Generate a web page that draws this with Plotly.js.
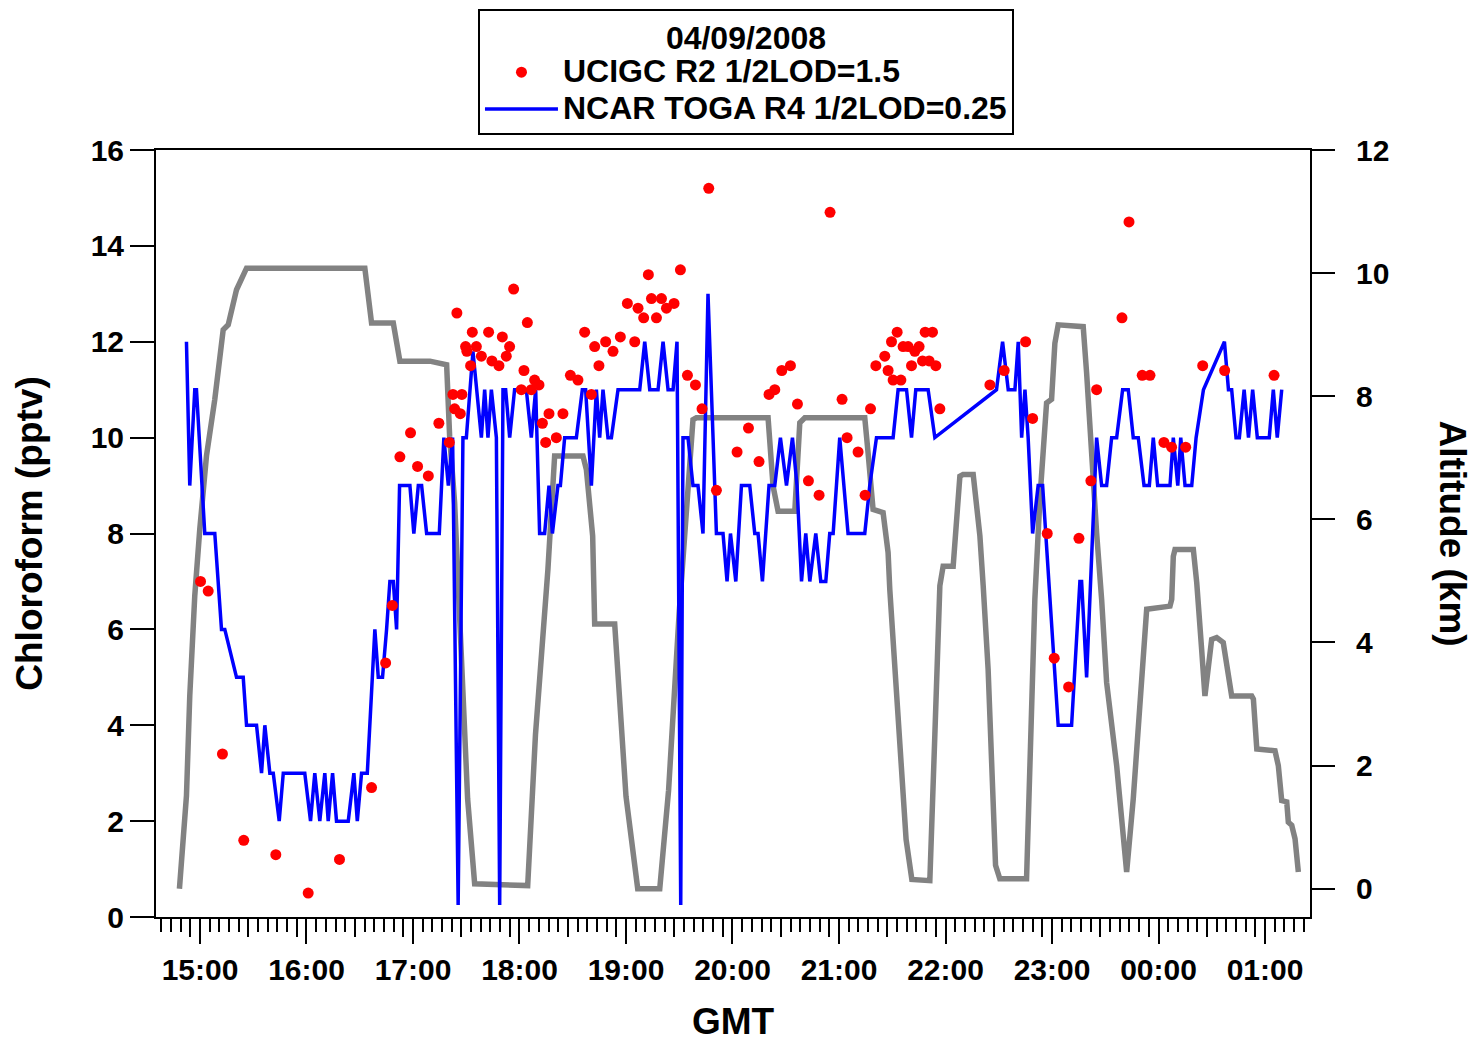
<!DOCTYPE html>
<html>
<head>
<meta charset="utf-8">
<script src="https://cdn.plot.ly/plotly-3.0.1.min.js"></script>
<style>html,body{margin:0;padding:0;background:#fff;}#chart{width:1476px;height:1042px;}</style>
</head>
<body>
<div id="chart"></div>
<script>
// ---- Axis tick labels (GMT hours; values above 24 are after midnight) ----
const hourTicks = [15, 16, 17, 18, 19, 20, 21, 22, 23, 24, 25];
const hourLabels = ['15:00', '16:00', '17:00', '18:00', '19:00', '20:00', '21:00', '22:00', '23:00', '00:00', '01:00'];
const chloroTicks = [0, 2, 4, 6, 8, 10, 12, 14, 16];
const altTicks = [0, 2, 4, 6, 8, 10, 12];

// ---- Aircraft altitude (km), gray trace ----
const altTime = [14.807, 14.873, 14.904, 14.951, 14.998, 15.061, 15.139, 15.218, 15.265, 15.343,
  15.437, 16.548, 16.611, 16.815, 16.877, 17.159, 17.316, 17.344, 17.391, 17.466,
  17.513, 17.579, 18.077, 18.150, 18.267, 18.330, 18.596, 18.628, 18.687, 18.706,
  18.894, 19.000, 19.110, 19.317, 19.400, 19.500, 19.629, 19.661, 20.334, 20.381,
  20.428, 20.585, 20.632, 20.679, 21.242, 21.273, 21.320, 21.414, 21.461, 21.477,
  21.570, 21.630, 21.684, 21.853, 21.900, 21.947, 21.978, 22.072, 22.135, 22.166,
  22.260, 22.323, 22.354, 22.400, 22.470, 22.510, 22.761, 22.792, 22.839, 22.886,
  22.949, 22.996, 23.027, 23.058, 23.293, 23.325, 23.356, 23.419, 23.466, 23.513,
  23.607, 23.669, 23.701, 23.763, 23.826, 23.873, 23.889, 24.108, 24.124, 24.139,
  24.155, 24.327, 24.359, 24.405, 24.436, 24.499, 24.546, 24.608, 24.687, 24.875,
  24.891, 24.923, 25.094, 25.125, 25.157, 25.204, 25.219, 25.251, 25.282, 25.313];
const altKm = [0.00, 1.51, 3.13, 4.76, 5.84, 7.03, 7.95, 9.08, 9.16, 9.73,
  10.08, 10.08, 9.19, 9.19, 8.57, 8.57, 8.51, 7.35, 6.27, 3.08,
  1.46, 0.08, 0.05, 2.50, 5.19, 7.03, 7.03, 6.81, 5.73, 4.30,
  4.30, 1.50, 0.00, 0.00, 1.60, 4.50, 7.62, 7.65, 7.65, 6.54,
  6.13, 6.13, 7.57, 7.65, 7.65, 7.08, 6.16, 6.11, 5.46, 4.86,
  2.50, 0.80, 0.15, 0.13, 2.50, 4.92, 5.24, 5.24, 6.70, 6.73,
  6.73, 5.73, 4.92, 3.57, 0.38, 0.16, 0.16, 2.00, 4.70, 6.32,
  7.89, 7.95, 8.86, 9.16, 9.13, 8.38, 7.41, 5.78, 4.70, 3.35,
  2.00, 0.92, 0.27, 1.46, 3.08, 4.16, 4.54, 4.59, 4.70, 5.40,
  5.51, 5.51, 4.97, 3.89, 3.13, 4.05, 4.08, 4.00, 3.13, 3.13,
  3.08, 2.27, 2.24, 2.00, 1.43, 1.41, 1.08, 1.03, 0.81, 0.27];

// ---- NCAR TOGA chloroform (pptv), blue line ----
const togaTime = [14.873, 14.904, 14.951, 14.967, 15.045, 15.139, 15.202, 15.233, 15.343, 15.406,
  15.437, 15.531, 15.578, 15.609, 15.656, 15.688, 15.744, 15.782, 15.984, 16.038,
  16.078, 16.125, 16.172, 16.204, 16.245, 16.282, 16.392, 16.445, 16.477, 16.517,
  16.571, 16.642, 16.674, 16.714, 16.752, 16.783, 16.815, 16.846, 16.874, 16.971,
  17.008, 17.050, 17.081, 17.128, 17.247, 17.290, 17.332, 17.372, 17.424, 17.469,
  17.501, 17.563, 17.642, 17.673, 17.704, 17.736, 17.783, 17.814, 17.845, 17.870,
  17.908, 17.954, 18.064, 18.111, 18.152, 18.189, 18.236, 18.277, 18.309, 18.361,
  18.384, 18.424, 18.534, 18.590, 18.621, 18.675, 18.722, 18.753, 18.784, 18.831,
  18.863, 18.925, 19.129, 19.176, 19.223, 19.301, 19.348, 19.395, 19.442, 19.479,
  19.514, 19.535, 19.582, 19.629, 19.676, 19.723, 19.770, 19.849, 19.911, 19.949,
  19.981, 20.031, 20.084, 20.162, 20.209, 20.240, 20.281, 20.343, 20.397, 20.450,
  20.507, 20.563, 20.606, 20.648, 20.688, 20.726, 20.782, 20.829, 20.876, 20.913,
  20.945, 21.007, 21.085, 21.242, 21.289, 21.352, 21.508, 21.555, 21.634, 21.681,
  21.721, 21.837, 21.900, 22.479, 22.536, 22.589, 22.652, 22.683, 22.715, 22.746,
  22.776, 22.818, 22.870, 22.912, 23.058, 23.184, 23.262, 23.278, 23.325, 23.419,
  23.466, 23.513, 23.560, 23.607, 23.663, 23.716, 23.763, 23.810, 23.864, 23.914,
  23.951, 23.992, 24.108, 24.139, 24.181, 24.209, 24.249, 24.312, 24.353, 24.422,
  24.619, 24.657, 24.687, 24.728, 24.759, 24.804, 24.845, 24.884, 24.928, 25.040,
  25.078, 25.115, 25.157];
const togaVal = [12, 9, 11, 11, 8, 8, 6, 6, 5, 5,
  4, 4, 3, 4, 3, 3, 2, 3, 3, 2,
  3, 2, 3, 2, 3, 2, 2, 3, 2, 3,
  3, 6, 5, 5, 6, 7, 7, 6, 9, 9,
  8, 9, 9, 8, 8, 10, 9, 10, 0.25, 10,
  10, 11.8, 10, 11, 10, 11, 10, 0.25, 11, 11,
  10, 11, 11, 10, 11, 8, 8, 9, 8, 9,
  9, 10, 10, 11, 11, 9, 11, 10, 11, 10,
  10, 11, 11, 12, 11, 11, 12, 11, 11, 12,
  0.25, 10, 10, 9, 9, 8, 13, 8, 8, 7,
  8, 7, 9, 9, 8, 8, 7, 9, 9, 10,
  9, 10, 9, 7, 8, 7, 8, 7, 7, 8,
  8, 10, 8, 8, 9, 10, 10, 11, 11, 10,
  11, 11, 10, 11, 12, 11, 11, 12, 10, 11,
  10, 8, 9, 9, 4, 4, 7, 7, 5, 10,
  9, 9, 10, 10, 11, 11, 10, 10, 9, 9,
  10, 9, 9, 10, 9, 10, 9, 9, 10, 11,
  12, 11, 11, 10, 10, 11, 10, 11, 10, 10,
  11, 10, 11];

// ---- UCIGC chloroform (pptv), red dots ----
const ucigcTime = [15.005, 15.077, 15.211, 15.411, 15.712, 16.016, 16.310, 16.611, 16.743, 16.806,
  16.877, 16.977, 17.043, 17.144, 17.243, 17.341, 17.375, 17.391, 17.412, 17.444,
  17.459, 17.494, 17.506, 17.541, 17.557, 17.595, 17.642, 17.710, 17.741, 17.807,
  17.839, 17.876, 17.907, 17.945, 18.017, 18.042, 18.074, 18.111, 18.142, 18.183,
  18.215, 18.246, 18.277, 18.346, 18.408, 18.478, 18.549, 18.612, 18.675, 18.706,
  18.746, 18.809, 18.878, 18.947, 19.013, 19.082, 19.113, 19.166, 19.210, 19.239,
  19.286, 19.333, 19.380, 19.451, 19.511, 19.577, 19.652, 19.714, 19.777, 19.849,
  20.043, 20.150, 20.249, 20.343, 20.397, 20.463, 20.544, 20.610, 20.713, 20.813,
  20.916, 21.029, 21.076, 21.179, 21.245, 21.296, 21.346, 21.430, 21.461, 21.493,
  21.508, 21.546, 21.581, 21.602, 21.649, 21.681, 21.712, 21.752, 21.784, 21.809,
  21.846, 21.878, 21.909, 21.947, 22.417, 22.551, 22.752, 22.818, 22.955, 23.021,
  23.156, 23.253, 23.365, 23.419, 23.657, 23.723, 23.847, 23.920, 24.051, 24.123,
  24.255, 24.415, 24.621, 25.085];
const ucigcVal = [7.0, 6.8, 3.4, 1.6, 1.3, 0.5, 1.2, 2.7, 5.3, 6.5,
  9.6, 10.1, 9.4, 9.2, 10.3, 9.9, 10.9, 10.6, 12.6, 10.5,
  10.9, 11.9, 11.8, 11.5, 12.2, 11.9, 11.7, 12.2, 11.6, 11.5,
  12.1, 11.7, 11.9, 13.1, 11.0, 11.4, 12.4, 11.0, 11.2, 11.1,
  10.3, 9.9, 10.5, 10.0, 10.5, 11.3, 11.2, 12.2, 10.9, 11.9,
  11.5, 12.0, 11.8, 12.1, 12.8, 12.0, 12.7, 12.5, 13.4, 12.9,
  12.5, 12.9, 12.7, 12.8, 13.5, 11.3, 11.1, 10.6, 15.2, 8.9,
  9.7, 10.2, 9.5, 10.9, 11.0, 11.4, 11.5, 10.7, 9.1, 8.8,
  14.7, 10.8, 10.0, 9.7, 8.8, 10.6, 11.5, 11.7, 11.4, 12.0,
  11.2, 12.2, 11.2, 11.9, 11.9, 11.5, 11.8, 11.9, 11.6, 12.2,
  11.6, 12.2, 11.5, 10.6, 11.1, 11.4, 12.0, 10.4, 8.0, 5.4,
  4.8, 7.9, 9.1, 11.0, 12.5, 14.5, 11.3, 11.3, 9.9, 9.8,
  9.8, 11.5, 11.4, 11.3];

// ---- legend texts ----
const legendTitle = '04/09/2008';
const ucigcName = 'UCIGC R2 1/2LOD=1.5';
const togaName = 'NCAR TOGA R4 1/2LOD=0.25';

// ---- axis decoration: minor ticks (11 per hour) and medium ticks ----
const xRange = [14.587, 25.4225];
const minorTicks = [];
const mediumTicks = [];
for (let h = 14; h <= 25; h++) {
  for (let k = 1; k < 11; k++) {
    const v = h + k / 11;
    if (v > xRange[0] && v < xRange[1]) {
      minorTicks.push(v);
      if (k === 5 || k === 10) mediumTicks.push(v);
    }
  }
}

const FONT = 'Liberation Sans, Arial, Helvetica, sans-serif';
const big = (t) => '<span style="font-size:32px">' + t + '</span>';

const traces = [
  {
    name: 'Altitude', x: altTime, y: altKm, xaxis: 'x', yaxis: 'y',
    type: 'scatter', mode: 'lines', line: {color: '#828282', width: 5.5},
    showlegend: false, hoverinfo: 'skip'
  },
  {
    name: big(togaName), x: togaTime, y: togaVal, xaxis: 'x', yaxis: 'y2',
    type: 'scatter', mode: 'lines', line: {color: '#0000ff', width: 3.5},
    legendrank: 2
  },
  {
    name: big(ucigcName), x: ucigcTime, y: ucigcVal, xaxis: 'x', yaxis: 'y2',
    type: 'scatter', mode: 'markers', marker: {color: '#ff0000', size: 11, symbol: 'circle'},
    legendrank: 1
  },
  {
    x: [], y: [], xaxis: 'x2', yaxis: 'y', type: 'scatter', mode: 'markers',
    showlegend: false, hoverinfo: 'skip'
  }
];

const layout = {
  width: 1476, height: 1042,
  margin: {l: 156, r: 166, t: 150, b: 125, pad: 0, autoexpand: false},
  paper_bgcolor: '#ffffff', plot_bgcolor: '#ffffff',
  font: {family: FONT, size: 30, color: '#000000', weight: 'bold'},
  showlegend: true,
  legend: {
    x: 0.279, xanchor: 'left', y: 1.1838, yanchor: 'top',
    bordercolor: '#000000', borderwidth: 2, bgcolor: '#ffffff',
    font: {family: FONT, size: 26, color: '#000000', weight: 'bold'},
    title: {text: big(legendTitle), side: 'top center', font: {family: FONT, size: 29, color: '#000000', weight: 'bold'}},
    itemwidth: 73, traceorder: 'normal'
  },
  xaxis: {
    range: xRange, tickmode: 'array', tickvals: hourTicks, ticktext: hourLabels,
    ticks: 'outside', ticklen: 25, tickwidth: 2, tickcolor: '#000000',
    showline: true, linewidth: 2, linecolor: '#000000', mirror: true,
    showgrid: false, zeroline: false, anchor: 'y',
    tickfont: {family: FONT, size: 30, color: '#000000', weight: 'bold'},
    title: {text: 'GMT', font: {family: FONT, size: 37, color: '#000000', weight: 'bold'}, standoff: 24},
    minor: {tickmode: 'array', tickvals: minorTicks, ticks: 'outside', ticklen: 13, tickwidth: 2, tickcolor: '#000000', showgrid: false}
  },
  xaxis2: {
    range: xRange, overlaying: 'x', anchor: 'y', side: 'bottom',
    tickmode: 'array', tickvals: mediumTicks, ticks: 'outside', ticklen: 19, tickwidth: 2, tickcolor: '#000000',
    showticklabels: false, showline: false, showgrid: false, zeroline: false
  },
  yaxis: {
    range: [-0.46, 12], side: 'right', anchor: 'x',
    tickmode: 'array', tickvals: altTicks,
    ticks: 'outside', ticklen: 23, tickwidth: 2, tickcolor: '#000000',
    showline: true, linewidth: 2, linecolor: '#000000',
    showgrid: false, zeroline: false, ticklabelstandoff: 15,
    tickfont: {family: FONT, size: 30, color: '#000000', weight: 'bold'}
  },
  yaxis2: {
    range: [0, 16], side: 'left', overlaying: 'y', anchor: 'x',
    tickmode: 'array', tickvals: chloroTicks,
    ticks: 'outside', ticklen: 24, tickwidth: 2, tickcolor: '#000000',
    showline: true, linewidth: 2, linecolor: '#000000',
    showgrid: false, zeroline: false,
    tickfont: {family: FONT, size: 30, color: '#000000', weight: 'bold'},
    title: {text: 'Chloroform (pptv)', font: {family: FONT, size: 37, color: '#000000', weight: 'bold'}, standoff: 37}
  },
  annotations: [{
    text: 'Altitude (km)', xref: 'paper', yref: 'paper', x: 1.1239, y: 0.5,
    xanchor: 'center', yanchor: 'middle', textangle: 90, showarrow: false,
    font: {family: FONT, size: 37, color: '#000000', weight: 'bold'}
  }]
};

Plotly.newPlot('chart', traces, layout, {displayModeBar: false, staticPlot: true});
</script>
</body>
</html>
